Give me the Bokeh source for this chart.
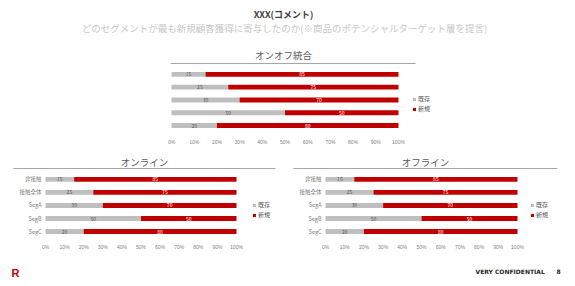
from bokeh.plotting import figure
from bokeh.models import (Range1d, LinearAxis, FixedTicker, NumeralTickFormatter,
                          Legend, LegendItem, ColumnDataSource)
from bokeh.layouts import column, row
from bokeh.embed import file_html
from bokeh.resources import INLINE
from bokeh.core.properties import value

# ---------------- data ----------------
categories = ["非接触", "接触全体", "SegA", "SegB", "SegC"]
series_names = ["既存", "新規"]
combined_existing = [15, 25, 30, 50, 20]
combined_new = [85, 75, 70, 50, 80]
online_existing = [15, 25, 30, 50, 20]
online_new = [85, 75, 70, 50, 80]
offline_existing = [15, 25, 30, 50, 20]
offline_new = [85, 75, 70, 50, 80]
x_ticks = [0, 0.1, 0.2, 0.3, 0.4, 0.5, 0.6, 0.7, 0.8, 0.9, 1.0]

header_title = "XXX(コメント)"
header_sub = "どのセグメントが最も新規顧客獲得に寄与したのか(※商品のポテンシャルターゲット層を提言)"
chart_titles = ["オンオフ統合", "オンライン", "オフライン"]
footer_texts = ["R", "VERY CONFIDENTIAL", "8"]

JP = "Noto Sans CJK JP"
RED = "#C00000"
GRAY = "#BFBFBF"
TITLE_PX = 9.5


def blank(w, h):
    p = figure(width=w, height=h, x_range=Range1d(0, w), y_range=Range1d(h, 0),
               output_backend="svg", toolbar_location=None, title=None,
               x_axis_location=None, y_axis_location=None, min_border=0)
    p.outline_line_color = None
    p.grid.visible = False
    return p


def make_chart(title, existing, new, width, height, line_l, line_r, frame_r,
               line_y, title_cx, title_gap, bar0, bar1, row0, step, tick_y,
               leg_x, leg_y1):
    n = len(categories)
    fb = tick_y - 8                      # frame bottom
    frame_l = line_l
    px = bar1 - bar0
    xs = -(bar0 - frame_l) / px
    xe = xs + (frame_r - frame_l) / px
    ytop = (n - 1) + (row0 - line_y) / step
    ybot = ytop - (fb - line_y) / step

    ex = [v / 100 for v in existing]
    nw = [v / 100 for v in new]
    ys = [n - 1 - i for i in range(n)]
    src = ColumnDataSource(dict(
        cat=categories, y=ys, ex=ex, nw=nw,
        tot=[a + b for a, b in zip(ex, nw)],
        exmid=[a / 2 for a in ex],
        nwmid=[a + b / 2 for a, b in zip(ex, nw)],
        exlab=[str(v) for v in existing], nwlab=[str(v) for v in new]))

    p = figure(width=width, height=height, x_range=Range1d(xs, xe),
               y_range=Range1d(ybot, ytop), output_backend="svg",
               toolbar_location=None, x_axis_location=None, y_axis_location=None,
               min_border_left=frame_l, min_border_right=width - frame_r,
               min_border_top=line_y, min_border_bottom=height - fb)
    p.outline_line_color = None
    p.grid.visible = False

    p.title.text = title
    p.title.align = "left"
    p.title.offset = title_cx - frame_l - 0.5 * TITLE_PX * len(title)
    p.title.text_font = JP
    p.title.text_font_size = f"{TITLE_PX}px"
    p.title.text_font_style = "normal"
    p.title.text_color = "#595959"
    p.title.standoff = title_gap

    topax = LinearAxis(ticker=FixedTicker(ticks=[0]), axis_line_color="#A6A6A6",
                       axis_line_width=1, major_tick_line_color=None,
                       minor_tick_line_color=None, major_label_text_color=None,
                       major_label_text_font_size="0px", major_label_standoff=0,
                       major_tick_out=0, major_tick_in=0, axis_label_standoff=0,
                       bounds=(xs + (line_l - frame_l) / px,
                               xs + (line_r - frame_l) / px))
    p.add_layout(topax, "above")

    ax = LinearAxis(ticker=FixedTicker(ticks=x_ticks),
                    formatter=NumeralTickFormatter(format="0%"),
                    axis_line_color=None, major_tick_line_color=None,
                    minor_tick_line_color=None, major_label_text_font_size="5px",
                    major_label_text_color="#7F7F7F", major_label_standoff=2)
    p.add_layout(ax, "below")

    h = 5 / step
    r1 = p.hbar(y="y", left=0, right="ex", height=h, source=src,
                color=GRAY, line_color=None)
    r2 = p.hbar(y="y", left="ex", right="tot", height=h, source=src,
                color=RED, line_color=None)

    p.text(x=0, y="y", text="cat", source=src, x_offset=-4,
           text_align="right", text_baseline="middle",
           text_font=value(JP), text_font_size="5.5px", text_color="#7F7F7F")
    p.text(x="exmid", y="y", text="exlab", source=src,
           text_align="center", text_baseline="middle",
           text_font=value(JP), text_font_size="5px", text_color="#595959")
    p.text(x="nwmid", y="y", text="nwlab", source=src,
           text_align="center", text_baseline="middle",
           text_font=value(JP), text_font_size="5px", text_color="#FFFFFF")

    loc = (leg_x - frame_l - 2, fb - (leg_y1 + 11 + 5))
    leg = Legend(items=[LegendItem(label=series_names[0], renderers=[r1]),
                        LegendItem(label=series_names[1], renderers=[r2])],
                 location=loc,
                 glyph_width=4, glyph_height=4, label_height=8, label_width=10,
                 spacing=1, padding=0, margin=0, label_standoff=2,
                 label_text_font=JP, label_text_font_size="6px",
                 label_text_color="#595959",
                 border_line_color=None, background_fill_alpha=0)
    p.add_layout(leg, "center")
    return p


# header
hdr = blank(575, 40)
hdr.text(x=[283], y=[14], text=[header_title], text_align="center",
         text_baseline="middle", text_font=value(JP), text_font_size="9px",
         text_font_style="bold", text_color="#404040")
hdr.text(x=[284], y=[27], text=[header_sub], text_align="center",
         text_baseline="middle", text_font=value(JP), text_font_size="9.5px",
         text_color="#C8C8C8")

top = make_chart(chart_titles[0], combined_existing, combined_new, 575, 107,
                 170, 415, 445, 23, 283, 3, 171, 398, 34, 13, 99, 414, 58)
bl = make_chart(chart_titles[1], online_existing, online_new, 285, 105,
                13, 275, 280, 21, 144, 0, 45, 236, 32, 13.25, 97, 254, 57)
br = make_chart(chart_titles[2], offline_existing, offline_new, 290, 105,
                8, 272, 285, 21, 140, 0, 40, 232, 32, 13.25, 97, 247, 57)

# footer
ftr = blank(575, 34)
ftr.text(x=[11], y=[20], text=[footer_texts[0]], text_baseline="middle",
         text_font=value("Liberation Sans"), text_font_size="11px",
         text_font_style="bold", text_color="#BF0000")
ftr.text(x=[475], y=[19], text=[footer_texts[1]], text_baseline="middle",
         text_font=value("DejaVu Sans"), text_font_size="6px",
         text_font_style="bold", text_color="#262626")
ftr.text(x=[556], y=[19], text=[footer_texts[2]], text_baseline="middle",
         text_font=value("DejaVu Sans"), text_font_size="6px",
         text_font_style="bold", text_color="#262626")

layout = column(row(hdr), row(top), row(bl, br), row(ftr))

with open("out.html", "w") as f:
    f.write(file_html(layout, INLINE))
